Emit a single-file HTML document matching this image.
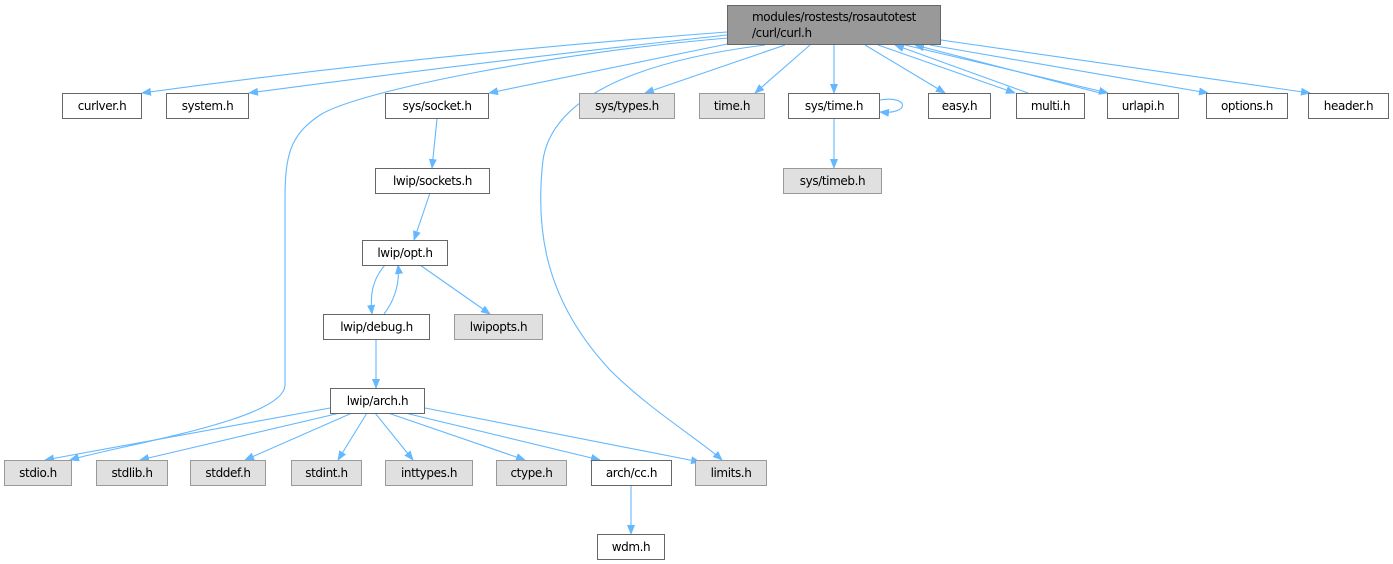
<!DOCTYPE html>
<html><head><meta charset="utf-8"><style>
body{margin:0;background:#fff;width:1393px;height:564px;overflow:hidden;position:relative;font-family:"DejaVu Sans","Liberation Sans",sans-serif;}
.n{position:absolute;box-sizing:border-box;border:1px solid #666;background:#fff;font-size:12px;color:#000;display:flex;align-items:center;justify-content:center;height:26px;white-space:nowrap;letter-spacing:-0.4px}
.g{background:#e0e0e0;border-color:#999}
svg{position:absolute;left:0;top:0}
</style></head><body>
<svg width="1393" height="564" viewBox="0 0 1393 564">
<defs><marker id="a" markerWidth="10" markerHeight="8" refX="9" refY="4" orient="auto" markerUnits="userSpaceOnUse"><path d="M0,0 L10,4 L0,8 z" fill="#63b8ff"/></marker></defs>
<g fill="none" stroke="#63b8ff" stroke-width="1.1" marker-end="url(#a)">
<path d="M727,32 Q420,55 142,93"/>
<path d="M727,35 Q480,62 249,93"/>
<path d="M728,38 C560,52 360,90 320,115 C290,135 285,155 285,200 L285,385 C285,420 120,445 70,460"/>
<path d="M737,42 L489,93"/>
<path d="M765,45 C630,62 552,100 543,160 C535,230 545,300 610,370 C650,410 700,440 722,460"/>
<path d="M785,45 L645,93"/>
<path d="M810,45 L755,93"/>
<path d="M834,45 L834,93"/>
<path d="M834,119 L834,168"/>
<path d="M880,100 C910,95 910,115 880,112"/>
<path d="M865,45 L945,93"/>
<path d="M878,45 L1015,93"/>
<path d="M1028,93 L895,45"/>
<path d="M905,45 L1108,93"/>
<path d="M1100,93 L915,45"/>
<path d="M930,45 L1208,93"/>
<path d="M941,40 L1310,93"/>
<path d="M437,119 L432,168"/>
<path d="M430,193 L414,240"/>
<path d="M385,265 C372,280 370,295 372,314"/>
<path d="M384,314 C395,300 400,282 398,265"/>
<path d="M420,265 L490,314"/>
<path d="M376,339 L376,388"/>
<path d="M330,408 L45,460"/>
<path d="M340,413 L140,460"/>
<path d="M352,413 L245,460"/>
<path d="M367,413 L338,460"/>
<path d="M375,413 L413,460"/>
<path d="M388,413 L525,460"/>
<path d="M405,413 L600,460"/>
<path d="M425,408 L700,462"/>
<path d="M631,486 L631,534"/>
</g></svg>
<div class="n" style="left:727px;top:5px;width:214px;height:40px;background:#999;border-color:#666;flex-direction:column;line-height:16px">modules/rostests/rosautotest<br>/curl/curl.h</div>
<div class="n" style="left:62px;top:93px;width:80px">curlver.h</div>
<div class="n" style="left:166px;top:93px;width:83px">system.h</div>
<div class="n" style="left:385px;top:93px;width:104px">sys/socket.h</div>
<div class="n g" style="left:579px;top:93px;width:96px">sys/types.h</div>
<div class="n g" style="left:699px;top:93px;width:66px">time.h</div>
<div class="n" style="left:788px;top:93px;width:92px">sys/time.h</div>
<div class="n" style="left:928px;top:93px;width:63px">easy.h</div>
<div class="n" style="left:1016px;top:93px;width:69px">multi.h</div>
<div class="n" style="left:1107px;top:93px;width:72px">urlapi.h</div>
<div class="n" style="left:1206px;top:93px;width:82px">options.h</div>
<div class="n" style="left:1308px;top:93px;width:81px">header.h</div>
<div class="n g" style="left:783px;top:168px;width:99px">sys/timeb.h</div>
<div class="n" style="left:375px;top:168px;width:115px">lwip/sockets.h</div>
<div class="n" style="left:362px;top:240px;width:86px">lwip/opt.h</div>
<div class="n" style="left:323px;top:314px;width:107px">lwip/debug.h</div>
<div class="n g" style="left:454px;top:314px;width:89px">lwipopts.h</div>
<div class="n" style="left:330px;top:388px;width:95px">lwip/arch.h</div>
<div class="n g" style="left:4px;top:460px;width:68px">stdio.h</div>
<div class="n g" style="left:96px;top:460px;width:72px">stdlib.h</div>
<div class="n g" style="left:190px;top:460px;width:76px">stddef.h</div>
<div class="n g" style="left:291px;top:460px;width:71px">stdint.h</div>
<div class="n g" style="left:385px;top:460px;width:88px">inttypes.h</div>
<div class="n g" style="left:496px;top:460px;width:71px">ctype.h</div>
<div class="n" style="left:591px;top:460px;width:81px">arch/cc.h</div>
<div class="n g" style="left:695px;top:460px;width:72px">limits.h</div>
<div class="n" style="left:597px;top:534px;width:68px">wdm.h</div>
</body></html>
